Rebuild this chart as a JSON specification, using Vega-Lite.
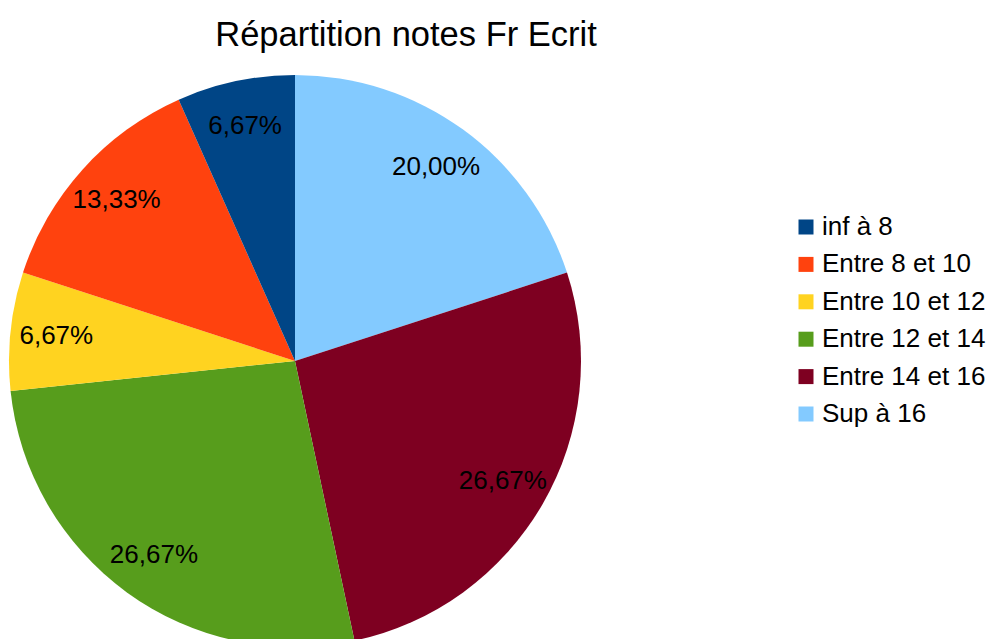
{
  "$schema": "https://vega.github.io/schema/vega-lite/v6.json",
  "autosize": {"type": "none"},
  "padding": {"top": 75, "left": 9, "right": 409, "bottom": 0},
  "width": 572,
  "height": 572,
  "background": "white",
  "title": {
    "text": "Répartition notes Fr Ecrit",
    "font": "Liberation Sans",
    "fontSize": 34.5,
    "fontWeight": "normal",
    "color": "#000000",
    "anchor": "middle",
    "baseline": "alphabetic",
    "offset": -5,
    "dx": 111
  },
  "data": {
    "values": [
      {"categorie": "Sup à 16", "nombre": 3, "ordre": 1, "label": "20,00%"},
      {"categorie": "Entre 14 et 16", "nombre": 4, "ordre": 2, "label": "26,67%"},
      {"categorie": "Entre 12 et 14", "nombre": 4, "ordre": 3, "label": "26,67%"},
      {"categorie": "Entre 10 et 12", "nombre": 1, "ordre": 4, "label": "6,67%"},
      {"categorie": "Entre 8 et 10", "nombre": 2, "ordre": 5, "label": "13,33%"},
      {"categorie": "inf à 8", "nombre": 1, "ordre": 6, "label": "6,67%"}
    ]
  },
  "encoding": {
    "theta": {"field": "nombre", "type": "quantitative", "stack": true},
    "order": {"field": "ordre", "type": "quantitative"}
  },
  "layer": [
    {
      "mark": {"type": "arc", "outerRadius": 286, "stroke": null},
      "encoding": {
        "color": {
          "field": "categorie",
          "type": "nominal",
          "scale": {
            "domain": ["inf à 8", "Entre 8 et 10", "Entre 10 et 12", "Entre 12 et 14", "Entre 14 et 16", "Sup à 16"],
            "range": ["#004586", "#ff420e", "#ffd320", "#579d1c", "#7e0021", "#83caff"]
          },
          "legend": {
            "title": null,
            "orient": "none",
            "legendX": 784,
            "legendY": 139,
            "padding": 0,
            "symbolType": "square",
            "symbolSize": 225,
            "symbolStrokeWidth": 0,
            "symbolOpacity": 1,
            "labelFont": "Liberation Sans",
            "labelFontSize": 26,
            "labelColor": "#000000",
            "labelOffset": 3,
            "labelLimit": 300,
            "rowPadding": 11.4
          }
        }
      }
    },
    {
      "mark": {"type": "text", "radius": 240, "font": "Liberation Sans", "fontSize": 26, "color": "#000000", "align": "center", "baseline": "middle"},
      "encoding": {
        "text": {"field": "label", "type": "nominal"}
      }
    }
  ]
}
